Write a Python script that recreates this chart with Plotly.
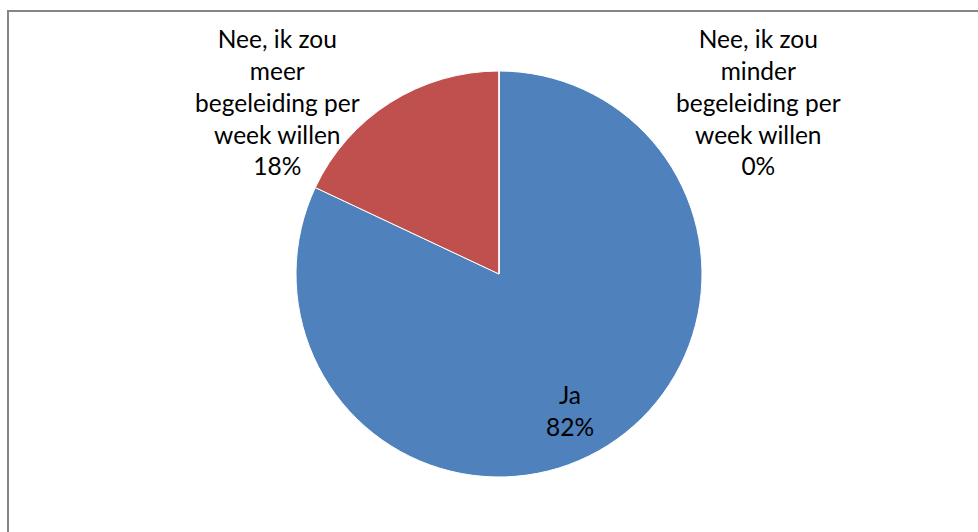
import plotly.graph_objects as go

labels = ["Ja", "Nee, ik zou meer begeleiding per week willen", "Nee, ik zou minder begeleiding per week willen"]
label_lines = [["Ja"], ["Nee, ik zou", "meer", "begeleiding per", "week willen"], ["Nee, ik zou", "minder", "begeleiding per", "week willen"]]
values = [82, 18, 0]
colors = ["#4F81BD", "#C0504D", "#9BBB59"]

W, H = 978, 532
FONT = "Lato"

fig = go.Figure()
fig.add_trace(go.Pie(
    labels=labels,
    values=values,
    sort=False,
    direction="clockwise",
    rotation=0,
    marker=dict(colors=colors, line=dict(color="white", width=1)),
    textinfo="none",
    hoverinfo="label+percent",
    showlegend=False,
    domain=dict(x=[(499 - 203) / W, (499 + 203) / W], y=[55 / H, 461 / H]),
))

pcts = [f"{round(v / sum(values) * 100)}%" for v in values]
label_pos = [(570, 410), (277, 102), (758, 102)]
for lines, pct, (px, py) in zip(label_lines, pcts, label_pos):
    fig.add_annotation(
        text="<br>".join(lines + [pct]),
        x=px / W, y=1 - py / H, xref="paper", yref="paper",
        showarrow=False, xanchor="center", yanchor="middle",
        font=dict(family=FONT, size=24.5, color="#000000"),
    )

fig.add_shape(type="rect", xref="paper", yref="paper",
              x0=8 / W, x1=1.02, y0=-0.02, y1=1 - 11 / H,
              line=dict(color="#868686", width=2), fillcolor="rgba(0,0,0,0)")

fig.update_layout(
    width=W, height=H,
    margin=dict(l=0, r=0, t=0, b=0),
    paper_bgcolor="white", plot_bgcolor="white",
)
fig.write_html("out.html", config={"displayModeBar": False},
               post_script="document.body.style.margin='0';document.body.style.overflow='hidden';")
